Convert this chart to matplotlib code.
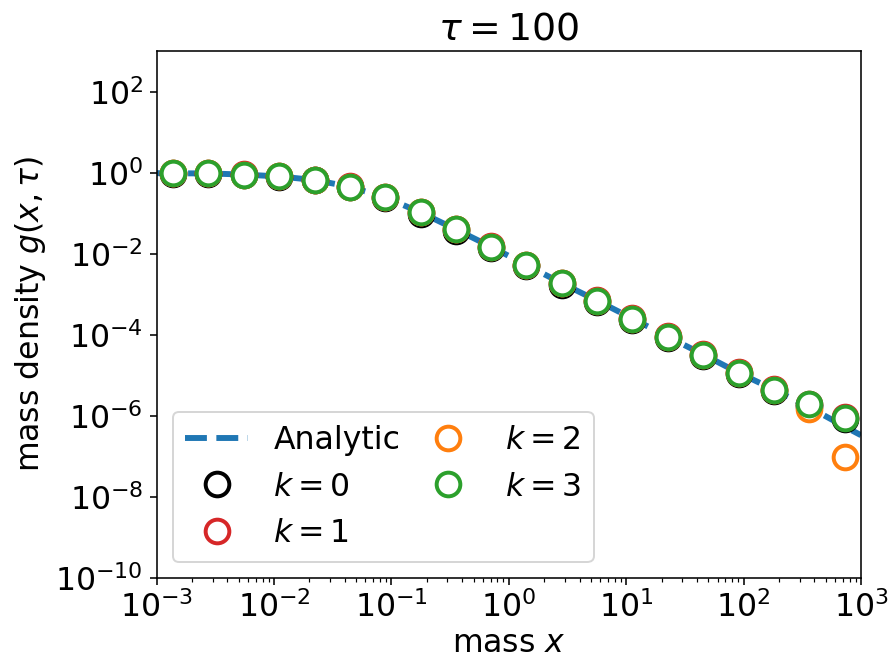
import numpy as np
import matplotlib
matplotlib.use("Agg")
import matplotlib.pyplot as plt

# mass grid (bin centres) and densities at tau = 100
mass = [0.00138, 0.00276, 0.00552, 0.0110, 0.0221, 0.0442, 0.0884, 0.177,
        0.354, 0.707, 1.41, 2.83, 5.66, 11.3, 22.6, 45.3, 90.5, 181.0,
        362.0, 724.0]

# analytic curve, sampled across the full x-range
mass_analytic = [0.001] + mass + [1000.0]
g_analytic = [0.975, 0.966, 0.962, 0.90, 0.81, 0.661, 0.451, 0.245, 0.105,
              0.0398, 0.0148, 5.25e-3, 1.86e-3, 6.92e-4, 2.51e-4, 8.9e-5,
              3.24e-5, 1.15e-5, 4.42e-6, 1.62e-6, 5.4e-7, 3.3e-7]

g_k0 = [0.955, 0.950, 0.885, 0.79, 0.645, 0.435, 0.232, 0.097, 0.0368,
        0.0137, 4.85e-3, 1.72e-3, 6.4e-4, 2.32e-4, 8.2e-5, 3.0e-5,
        1.06e-5, 4.08e-6, 1.76e-6, 8.2e-7]
g_k1 = [0.975, 0.970, 0.905, 0.82, 0.675, 0.462, 0.252, 0.108, 0.0410,
        0.0153, 5.4e-3, 1.92e-3, 7.1e-4, 2.58e-4, 9.2e-5, 3.34e-5,
        1.19e-5, 4.55e-6, 1.96e-6, 9.2e-7]
g_k2 = [0.966, 0.962, 0.90, 0.81, 0.661, 0.451, 0.245, 0.105, 0.0398,
        0.0148, 5.25e-3, 1.86e-3, 6.92e-4, 2.51e-4, 8.9e-5, 3.24e-5,
        1.15e-5, 4.42e-6, 1.5e-6, 9.6e-8]
g_k3 = [0.966, 0.962, 0.90, 0.81, 0.661, 0.451, 0.245, 0.105, 0.0398,
        0.0148, 5.25e-3, 1.86e-3, 6.92e-4, 2.51e-4, 8.9e-5, 3.24e-5,
        1.15e-5, 4.42e-6, 1.91e-6, 8.9e-7]

series = [("$k=0$", g_k0, "black"),
          ("$k=1$", g_k1, "tab:red"),
          ("$k=2$", g_k2, "tab:orange"),
          ("$k=3$", g_k3, "tab:green")]

plt.rcParams["font.size"] = 16

fig = plt.figure(figsize=(889 / 142, 661 / 142), dpi=142)
ax = fig.add_subplot(111)
fig.subplots_adjust(left=0.1763, right=0.9685, bottom=0.126, top=0.9225)

ax.plot(mass_analytic, g_analytic, "--", lw=3, color="tab:blue", label="Analytic")
for label, g, c in series:
    ax.plot(mass, g, "o", ms=12, mew=2, mfc="white", mec=c, label=label)

ax.set_xscale("log")
ax.set_yscale("log")
ax.set_xlim(1e-3, 1e3)
ax.set_ylim(1e-10, 1e3)
ax.set_yticks([1e-10, 1e-8, 1e-6, 1e-4, 1e-2, 1e0, 1e2])
ax.yaxis.set_minor_locator(matplotlib.ticker.NullLocator())

ax.set_xlabel("mass $x$", labelpad=2)
ax.set_ylabel(r"mass density $g(x,\tau)$")
ax.set_title(r"$\tau = 100$")
ax.legend(loc="lower left", ncol=2, columnspacing=0.5)

fig.savefig("out.png", dpi=142)
